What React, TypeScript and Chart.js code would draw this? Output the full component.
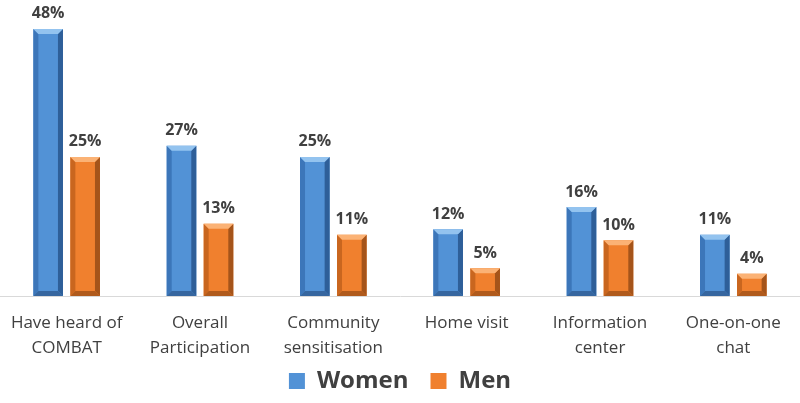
import React, { useEffect, useRef } from "react";
import { Chart, registerables } from "chart.js";

Chart.register(...registerables);

const categories: string[][] = [
  ["Have heard of", "COMBAT"],
  ["Overall", "Participation"],
  ["Community", "sensitisation"],
  ["Home visit"],
  ["Information", "center"],
  ["One-on-one", "chat"],
];
const women: number[] = [48, 27, 25, 12, 16, 11];
const men: number[] = [25, 13, 11, 5, 10, 4];

const FONT = "'Open Sans', 'DejaVu Sans', sans-serif";

const bevelPlugin = {
  id: "bevel",
  afterDatasetDraw(chart: any, args: any) {
    const ctx = chart.ctx;
    const ds = chart.data.datasets[args.index] as any;
    const bc = ds.bevel;
    args.meta.data.forEach((el: any) => {
      const w = el.width;
      const l = el.x - w / 2;
      const r = el.x + w / 2;
      const t = el.y;
      const b = el.base;
      const bv = Math.min(5, (b - t) / 2);
      const poly = (pts: number[][], color: string) => {
        ctx.fillStyle = color;
        ctx.beginPath();
        ctx.moveTo(pts[0][0], pts[0][1]);
        for (let k = 1; k < pts.length; k++) ctx.lineTo(pts[k][0], pts[k][1]);
        ctx.closePath();
        ctx.fill();
      };
      ctx.save();
      poly([[l, t], [l + bv, t + bv], [l + bv, b - bv], [l, b]], bc.left);
      poly([[r, t], [r - bv, t + bv], [r - bv, b - bv], [r, b]], bc.right);
      poly([[l, b], [l + bv, b - bv], [r - bv, b - bv], [r, b]], bc.bottom);
      poly([[l, t], [r, t], [r - bv, t + bv], [l + bv, t + bv]], bc.top);
      ctx.restore();
    });
  },
};

const labelPlugin = {
  id: "valueLabels",
  afterDatasetsDraw(chart: any) {
    const ctx = chart.ctx;
    ctx.save();
    ctx.font = `bold 16px ${FONT}`;
    ctx.fillStyle = "#404040";
    ctx.textAlign = "center";
    ctx.textBaseline = "bottom";
    chart.data.datasets.forEach((ds: any, i: number) => {
      const meta = chart.getDatasetMeta(i);
      meta.data.forEach((el: any, j: number) => {
        ctx.fillText(ds.data[j] + "%", el.x, el.y - 7);
      });
    });
    ctx.restore();
  },
};

// let the x tick labels extend below the (shortened) axis box without being clipped
const unclipPlugin = {
  id: "unclipX",
  afterLayout(chart: any) {
    const x = chart.scales.x;
    if (x) x.bottom = chart.height;
  },
};

export default function App() {
  const ref = useRef<HTMLCanvasElement | null>(null);
  useEffect(() => {
    if (!ref.current) return;
    const chart = new Chart(ref.current, {
      type: "bar",
      data: {
        labels: categories,
        datasets: [
          {
            label: "Women",
            data: women,
            backgroundColor: "#5292d6",
            bevel: { left: "#3c76b9", right: "#2e5f99", bottom: "#36669f", top: "#93c3ef" },
            barPercentage: 0.8,
            categoryPercentage: 0.555,
          } as any,
          {
            label: "Men",
            data: men,
            backgroundColor: "#f0802e",
            bevel: { left: "#c9661f", right: "#a5541a", bottom: "#b05a1c", top: "#fbb275" },
            barPercentage: 0.8,
            categoryPercentage: 0.555,
          } as any,
        ],
      },
      options: {
        animation: false,
        responsive: true,
        maintainAspectRatio: false,
        layout: { padding: { top: 0, left: 0, right: 0, bottom: 0 } },
        plugins: {
          legend: {
            position: "bottom",
            maxHeight: 57,
            labels: {
              font: { family: FONT, size: 24, weight: "bold" },
              color: "#404040",
              boxWidth: 16,
              boxHeight: 16,
              padding: 22,
            },
          },
          tooltip: { enabled: false },
        },
        scales: {
          x: {
            grid: { display: false, drawTicks: false },
            border: { display: true, color: "#d9d9d9", width: 1 },
            ticks: {
              font: { family: FONT, size: 17, lineHeight: 25 / 17 },
              color: "#404040",
              padding: 15,
              maxRotation: 0,
              autoSkip: false,
            },
            afterFit: (scale: any) => {
              scale.height = 51;
              scale.paddingLeft = 0;
              scale.paddingRight = 0;
            },
          },
          y: {
            display: false,
            min: 0,
            max: 53.2,
          },
        },
      },
      plugins: [bevelPlugin, labelPlugin, unclipPlugin],
    });
    return () => chart.destroy();
  }, []);
  return (
    <div style={{ position: "fixed", left: 0, top: 0, width: 800, height: 403, background: "#fff" }}>
      <canvas ref={ref} />
    </div>
  );
}
